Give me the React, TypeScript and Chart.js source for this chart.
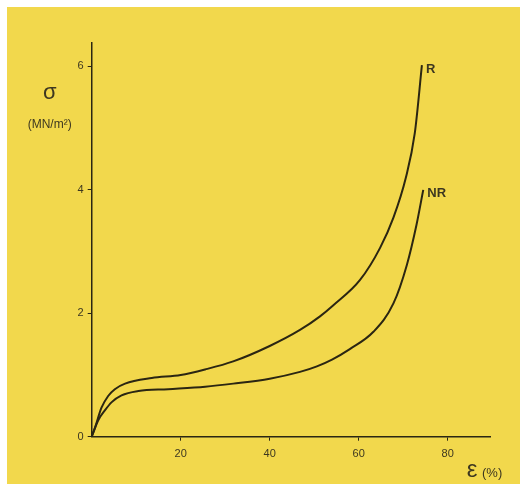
import React, { useEffect, useRef } from "react";
import { Chart, registerables } from "chart.js";

Chart.register(...registerables);

// Strain (%) and stress (MN/m²)
const rStrain = [0, 0.8, 2.2, 3.7, 5.2, 7.5, 13.5, 20, 25.5, 31.8, 40, 46.8, 51.3, 54.3, 60.3, 64.8, 67.8, 70.6, 72.6, 74.2];
const rStress = [0, 0.16, 0.47, 0.66, 0.77, 0.86, 0.95, 1.0, 1.09, 1.22, 1.47, 1.73, 1.95, 2.13, 2.54, 3.06, 3.55, 4.2, 4.92, 6.02];

const nrStrain = [0, 1.5, 3, 4.5, 6.7, 10.5, 17.2, 25.5, 31.8, 40, 46.8, 50.6, 54, 58, 63.3, 67.8, 70.8, 73, 74.5];
const nrStress = [0, 0.27, 0.43, 0.56, 0.67, 0.74, 0.77, 0.81, 0.86, 0.94, 1.05, 1.14, 1.25, 1.42, 1.7, 2.16, 2.78, 3.44, 4.0];

const seriesLabels = ["R", "NR"];
const xTicks = [20, 40, 60, 80];
const yTicks = [0, 2, 4, 6];

const BG = "#f2d84c";
const INK = "#2b2612";
const TXT = "#3d3720";

export default function App() {
  const ref = useRef<HTMLCanvasElement | null>(null);

  useEffect(() => {
    if (!ref.current) return;
    const toPts = (xs: number[], ys: number[]) => xs.map((x, i) => ({ x, y: ys[i] }));

    const labelPlugin = {
      id: "labels",
      afterDraw(chart: any) {
        const ctx = chart.ctx;
        const ca = chart.chartArea;
        ctx.save();
        ctx.fillStyle = TXT;
        ctx.textAlign = "center";
        ctx.textBaseline = "middle";
        // y-axis title
        ctx.font = "22px 'Liberation Sans'";
        ctx.fillText("σ", ca.left - 42, ca.top + 50);
        ctx.font = "12px 'Liberation Sans'";
        ctx.fillText("(MN/m²)", ca.left - 42, ca.top + 82);
        // x-axis title
        ctx.font = "24px 'Liberation Sans'";
        ctx.fillText("ε", ca.right - 18, ca.bottom + 34);
        ctx.font = "13px 'Liberation Sans'";
        ctx.textAlign = "left";
        ctx.fillText("(%)", ca.right - 8, ca.bottom + 37);
        // curve labels at curve ends
        ctx.font = "bold 13px 'Liberation Sans'";
        chart.data.datasets.forEach((ds: any, i: number) => {
          const meta = chart.getDatasetMeta(i);
          const last = meta.data[meta.data.length - 1];
          if (!last) return;
          ctx.fillText(ds.label, last.x + 4, last.y + 4);
        });
        ctx.restore();
      },
    };

    const chart = new Chart(ref.current, {
      type: "scatter",
      data: {
        datasets: [
          {
            label: seriesLabels[0],
            data: toPts(rStrain, rStress),
            showLine: true,
            borderColor: INK,
            borderWidth: 2,
            pointRadius: 0,
            cubicInterpolationMode: "monotone",
          },
          {
            label: seriesLabels[1],
            data: toPts(nrStrain, nrStress),
            showLine: true,
            borderColor: INK,
            borderWidth: 2,
            pointRadius: 0,
            cubicInterpolationMode: "monotone",
          },
        ],
      },
      options: {
        animation: false,
        responsive: false,
        layout: { padding: { left: 0, right: 30, top: 36, bottom: 0 } },
        plugins: { legend: { display: false }, tooltip: { enabled: false } },
        scales: {
          x: {
            type: "linear",
            min: 0,
            max: 89.5,
            afterBuildTicks: (s: any) => {
              s.ticks = xTicks.map((v) => ({ value: v }));
            },
            afterFit: (s: any) => {
              s.height = 47.3;
            },
            border: { display: true, color: INK, width: 1.5 },
            grid: { display: true, drawOnChartArea: false, drawTicks: true, tickLength: 4, tickColor: INK },
            ticks: {
              color: TXT,
              padding: 7,
              font: { family: "'Liberation Sans'", size: 11 },
              maxRotation: 0,
            },
          },
          y: {
            type: "linear",
            min: 0,
            max: 6.38,
            afterBuildTicks: (s: any) => {
              s.ticks = yTicks.map((v) => ({ value: v }));
            },
            afterFit: (s: any) => {
              s.width = 84.7;
            },
            border: { display: true, color: INK, width: 1.5 },
            grid: { display: true, drawOnChartArea: false, drawTicks: true, tickLength: 4, tickColor: INK },
            ticks: {
              color: TXT,
              padding: 4,
              font: { family: "'Liberation Sans'", size: 11 },
            },
          },
        },
      },
      plugins: [labelPlugin],
    } as any);

    return () => chart.destroy();
  }, []);

  return (
    <div
      style={{
        position: "fixed",
        left: 7,
        top: 7,
        width: 513,
        height: 477,
        background: BG,
      }}
    >
      <canvas ref={ref} width={513} height={477} style={{ display: "block" }} />
    </div>
  );
}
